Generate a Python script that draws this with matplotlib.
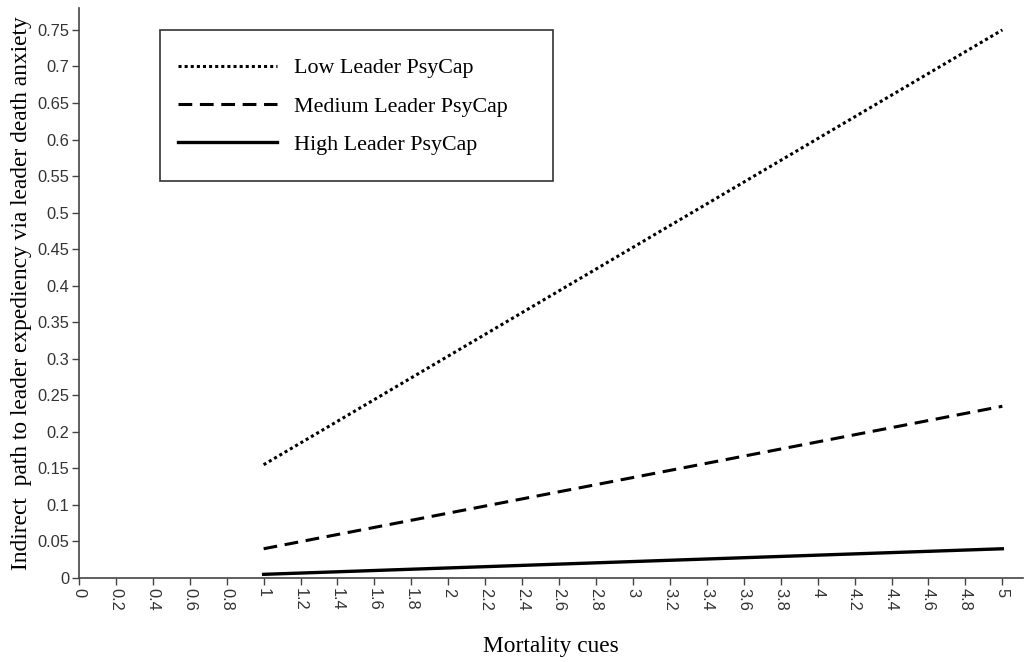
import numpy as np
import matplotlib
matplotlib.use("Agg")
import matplotlib.pyplot as plt
from matplotlib.patches import Rectangle

# Data
x_mortality = [1, 5]
low_psycap = [0.155, 0.75]
medium_psycap = [0.04, 0.235]
high_psycap = [0.005, 0.04]
series_labels = ["Low Leader PsyCap", "Medium Leader PsyCap", "High Leader PsyCap"]
x_ticks = [round(0.2 * i, 1) for i in range(26)]
y_ticks = [round(0.05 * i, 2) for i in range(16)]

fig = plt.figure(figsize=(10.28, 6.62), dpi=100)
ax = fig.add_axes([0.0768, 0.1269, 0.918, 0.861])

ax.plot(x_mortality, low_psycap, color="black", lw=2.2, linestyle=(0, (1, 1)), label=series_labels[0])
ax.plot(x_mortality, medium_psycap, color="black", lw=2.2, linestyle=(0, (4.5, 2.5)), label=series_labels[1])
ax.plot(x_mortality, high_psycap, color="black", lw=2.4, linestyle="-", label=series_labels[2])

ax.set_xlim(0, 5.11)
ax.set_ylim(0, 0.78)
ax.set_xticks(x_ticks)
ax.set_xticklabels([f"{v:g}" for v in x_ticks], rotation=-90, fontfamily="Liberation Sans", fontsize=11.8, color="#333333")
ax.set_yticks(y_ticks)
ax.set_yticklabels([f"{v:g}" for v in y_ticks], fontfamily="Liberation Sans", fontsize=11.8, color="#333333")
ax.tick_params(axis="both", direction="out", length=5, width=1, color="#444444", pad=2)

for s in ["top", "right"]:
    ax.spines[s].set_visible(False)
for s in ["left", "bottom"]:
    ax.spines[s].set_color("#444444")
    ax.spines[s].set_linewidth(1.2)

ax.set_xlabel("Mortality cues", fontfamily="Liberation Serif", fontsize=16.8, labelpad=18)
ax.set_ylabel("Indirect  path to leader expediency via leader death anxiety",
              fontfamily="Liberation Serif", fontsize=16.8, labelpad=4)

# Legend frame
fig.patches.append(Rectangle((160 / 1028, 1 - 181 / 662), (553 - 160) / 1028, (181 - 30) / 662,
                             transform=fig.transFigure, fill=False, edgecolor="#333333", lw=1.2))
leg = ax.legend(loc="upper left", bbox_to_anchor=(178 / 1028, 1 - 58 / 662),
                bbox_transform=fig.transFigure, frameon=False,
                prop={"family": "Liberation Serif", "size": 15.8},
                handlelength=4.5, handletextpad=0.78, labelspacing=0.82, borderaxespad=0, borderpad=0)

fig.savefig("out.png", dpi=100)
